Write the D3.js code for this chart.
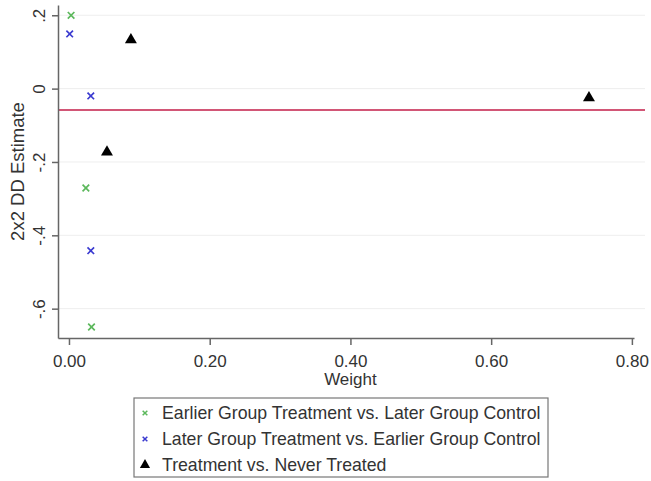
<!DOCTYPE html>
<meta charset="utf-8">
<style>
body { margin: 0; background: #fff; }
text { font-family: Arial, "Liberation Sans", sans-serif; fill: #333; }
.axis path, .axis line { stroke: #666; stroke-width: 1.5; }
</style>
<svg width="651" height="481"></svg>
<script src="https://d3js.org/d3.v7.min.js"></script>
<script>
// weights and 2x2 estimates
var earlierW = [0.003, 0.024, 0.032],
    earlierEst = [0.200, -0.271, -0.650],
    laterW = [0.001, 0.031, 0.031],
    laterEst = [0.149, -0.020, -0.442],
    neverW = [0.088, 0.054, 0.739],
    neverEst = [0.133, -0.173, -0.025],
    avgEst = -0.058,
    xTicks = [0, 0.2, 0.4, 0.6, 0.8],
    yTicks = [0.2, 0, -0.2, -0.4, -0.6],
    seriesNames = ["Earlier Group Treatment vs. Later Group Control",
                   "Later Group Treatment vs. Earlier Group Control",
                   "Treatment vs. Never Treated"];

var svg = d3.select("svg"),
    pLeft = 58, pRight = 645, pTop = 5, pBottom = 338;

var x = d3.scaleLinear().domain([-0.0156, 0.803]).range([pLeft, 634]),
    y = d3.scaleLinear().domain([-0.68, 0.228]).range([pBottom, pTop]);

// grid
svg.append("g").selectAll("line")
    .data(yTicks)
  .enter().append("line")
    .attr("x1", pLeft).attr("x2", pRight)
    .attr("y1", function(d) { return y(d); })
    .attr("y2", function(d) { return y(d); })
    .attr("stroke", "#eeeeee").attr("stroke-width", 1);

// weighted average line
svg.append("line")
    .attr("x1", pLeft).attr("x2", pRight)
    .attr("y1", y(avgEst)).attr("y2", y(avgEst))
    .attr("stroke", "#d25676").attr("stroke-width", 2);

function yFmt(v) {
  if (v === 0) return "0";
  return (v < 0 ? "-" : "") + String(Math.abs(v)).replace(/^0\./, ".");
}

var gx = svg.append("g")
    .attr("class", "axis")
    .attr("transform", "translate(0," + pBottom + ")")
    .call(d3.axisBottom(x).tickValues(xTicks).tickFormat(d3.format(".2f"))
      .tickSize(7).tickSizeOuter(0).tickPadding(10));
gx.selectAll("text").style("font-size", "17px").attr("fill", "#333");

var gy = svg.append("g")
    .attr("class", "axis")
    .attr("transform", "translate(" + pLeft + ",0)")
    .call(d3.axisLeft(y).tickValues(yTicks).tickFormat(yFmt)
      .tickSize(6).tickSizeOuter(0));
gy.selectAll("text")
    .attr("x", 0).attr("dy", 0).attr("y", -13)
    .attr("text-anchor", "middle")
    .attr("transform", "rotate(-90)")
    .attr("fill", "#333")
    .style("font-size", "17px");

svg.append("text")
    .attr("x", x(0.4)).attr("y", 385)
    .attr("text-anchor", "middle")
    .style("font-size", "17px")
    .text("Weight");

svg.append("text")
    .attr("transform", "translate(24," + (pTop + pBottom) / 2 + ") rotate(-90)")
    .attr("text-anchor", "middle")
    .style("font-size", "18.5px")
    .text("2x2 DD Estimate");

var xSym = d3.symbol(d3.symbolX, 30),
    triSym = d3.symbol(d3.symbolTriangle, 62);

function addPoints(ws, es, sym, col, isStroke) {
  svg.append("g").selectAll("path")
      .data(ws.map(function(w, i) { return [w, es[i]]; }))
    .enter().append("path")
      .attr("d", sym)
      .attr("transform", function(d) { return "translate(" + x(d[0]) + "," + y(d[1]) + ")"; })
      .attr("fill", isStroke ? "none" : col)
      .attr("stroke", isStroke ? col : "none")
      .attr("stroke-width", 1.7);
}
addPoints(earlierW, earlierEst, xSym, "#5cb85c", true);
addPoints(laterW, laterEst, xSym, "#3a3ad0", true);
addPoints(neverW, neverEst, triSym, "#000", false);

// legend
var legend = svg.append("g");
legend.append("rect")
    .attr("x", 134).attr("y", 398).attr("width", 414).attr("height", 79)
    .attr("fill", "none").attr("stroke", "#777").attr("stroke-width", 1.2);
var cols = ["#5cb85c", "#3a3ad0", "#000"];
seriesNames.forEach(function(name, i) {
  var cy = 413 + i * 26;
  legend.append("path")
      .attr("d", i < 2 ? d3.symbol(d3.symbolX, 16)() : d3.symbol(d3.symbolTriangle, 45)())
      .attr("transform", "translate(145," + cy + ")")
      .attr("fill", i < 2 ? "none" : cols[i])
      .attr("stroke", i < 2 ? cols[i] : "none")
      .attr("stroke-width", 1.5);
  legend.append("text")
      .attr("x", 162).attr("y", cy).attr("dy", "0.35em")
      .style("font-size", "17.7px")
      .text(name);
});
</script>
